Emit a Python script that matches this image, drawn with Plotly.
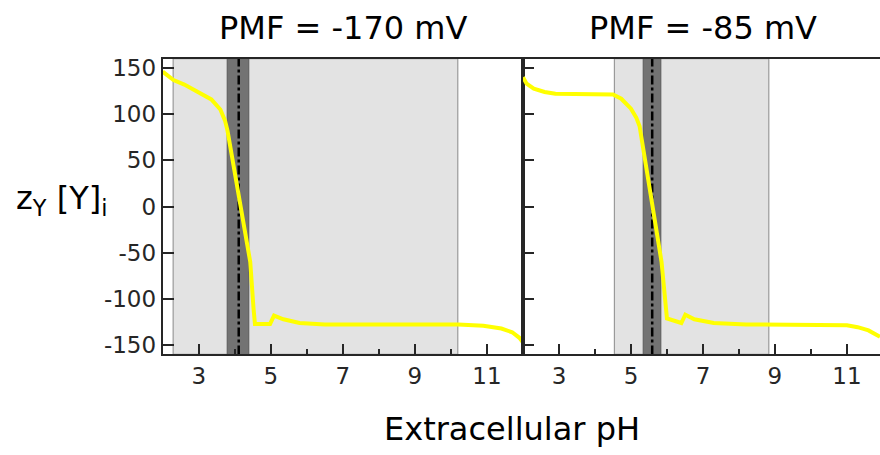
import plotly.graph_objects as go

# ---- data ----
ph_left = [2.0, 2.15, 2.3, 2.6, 3.0, 3.35, 3.6, 3.73, 3.8, 4.43, 4.52, 4.56, 4.98, 5.09, 5.35, 5.8, 6.5, 8.0, 10.2, 10.9, 11.4, 11.7, 11.9, 12.0]
z_left = [146, 141, 137, 132, 124, 116, 105, 93, 82, -60, -110, -127, -127, -118, -122, -126, -127.5, -127.5, -127.5, -129, -132, -136, -142, -147]

ph_right = [2.0, 2.1, 2.3, 2.6, 2.9, 3.5, 4.5, 4.73, 5.0, 5.15, 5.24, 5.85, 6.0, 6.4, 6.51, 6.76, 7.3, 8.2, 10.5, 11.0, 11.3, 11.6, 11.92]
z_right = [140, 133, 127.5, 124, 122, 121.5, 121.3, 116.7, 106, 96, 87, -60, -121, -126, -117, -122, -126, -127.5, -127.5, -128.5, -130.5, -134, -141]

titles = ["PMF = -170 mV", "PMF = -85 mV"]
light_regions = [(2.29, 10.19), (4.54, 8.83)]
dark_regions = [(3.79, 4.39), (5.34, 5.83)]
dash_pos = [4.11, 5.59]
x_ticks = [3, 5, 7, 9, 11]
x_minor = [2, 4, 6, 8, 10, 12]
y_ticks = [150, 100, 50, 0, -50, -100, -150]

W, H = 880, 455
FONT = "DejaVu Sans"
AX = "#262626"

x1 = [162.7 / W, 523 / W]
x2 = [523 / W, 1.0]
ydom = [1 - 356.7 / H, 1 - 55.7 / H]

fig = go.Figure()
fig.add_trace(go.Scatter(x=ph_left, y=z_left, mode="lines", line=dict(color="#ffff00", width=4),
                         xaxis="x", yaxis="y", showlegend=False))
fig.add_trace(go.Scatter(x=ph_right, y=z_right, mode="lines", line=dict(color="#ffff00", width=4),
                         xaxis="x2", yaxis="y2", showlegend=False))

shapes = []
for i, (xr, yr) in enumerate([("x", "y domain"), ("x2", "y2 domain")]):
    l0, l1 = light_regions[i]
    shapes.append(dict(type="rect", xref=xr, yref=yr, x0=l0, x1=l1, y0=0, y1=1,
                       fillcolor="#e3e3e3", line=dict(color="#9a9a9a", width=1.2), layer="below"))
    d0, d1 = dark_regions[i]
    shapes.append(dict(type="rect", xref=xr, yref=yr, x0=d0, x1=d1, y0=0, y1=1,
                       fillcolor="#737373", line=dict(color="#5a5a5a", width=1), layer="below"))
    shapes.append(dict(type="line", xref=xr, yref=yr, x0=dash_pos[i], x1=dash_pos[i], y0=0, y1=1,
                       line=dict(color="black", width=2.5, dash="dashdot"), layer="below"))

xcommon = dict(showline=True, linecolor=AX, linewidth=2, mirror=True,
               ticks="inside", ticklen=10, tickwidth=2, tickcolor=AX,
               tickmode="array", tickvals=x_ticks, ticktext=[str(v) for v in x_ticks],
               tickfont=dict(family=FONT, size=23, color="#262626"),
               minor=dict(tickmode="array", tickvals=x_minor, ticks="inside", ticklen=5, tickwidth=2, tickcolor=AX),
               showgrid=False, zeroline=False, layer="above traces")

ycommon = dict(range=[-160, 160], showline=True, linecolor=AX, linewidth=2,
               ticks="inside", ticklen=11, tickwidth=2, tickcolor=AX,
               tickmode="array", tickvals=y_ticks, ticktext=[str(v) for v in y_ticks],
               tickfont=dict(family=FONT, size=23, color="#262626"),
               showgrid=False, zeroline=False, layer="above traces")

fig.update_layout(
    width=W, height=H, margin=dict(l=0, r=0, t=0, b=0),
    paper_bgcolor="white", plot_bgcolor="white",
    xaxis=dict(domain=x1, range=[2, 12], anchor="y", **xcommon),
    xaxis2=dict(domain=x2, range=[2, 11.92], anchor="y2", **xcommon),
    yaxis=dict(domain=ydom, anchor="x", mirror=True, **ycommon),
    yaxis2=dict(domain=ydom, anchor="x2", mirror=False, showticklabels=False, **ycommon),
    shapes=shapes,
    annotations=[
        dict(text=titles[0], x=(x1[0] + x1[1]) / 2, y=1 - 24 / H, xref="paper", yref="paper",
             showarrow=False, xanchor="center", yanchor="middle",
             font=dict(family=FONT, size=32, color="black")),
        dict(text=titles[1], x=(523 + 883) / 2 / W, y=1 - 24 / H, xref="paper", yref="paper",
             showarrow=False, xanchor="center", yanchor="middle",
             font=dict(family=FONT, size=32, color="black")),
        dict(text="Extracellular pH", x=512 / W, y=1 - 433 / H, xref="paper", yref="paper",
             showarrow=False, xanchor="center", yanchor="middle",
             font=dict(family=FONT, size=32, color="black")),
        dict(text="z<sub>Y</sub> [Y]<sub>i</sub>", x=62 / W, y=1 - 200 / H, xref="paper", yref="paper",
             showarrow=False, xanchor="center", yanchor="middle",
             font=dict(family=FONT, size=32, color="black")),
    ],
)

fig.write_html("out.html")
